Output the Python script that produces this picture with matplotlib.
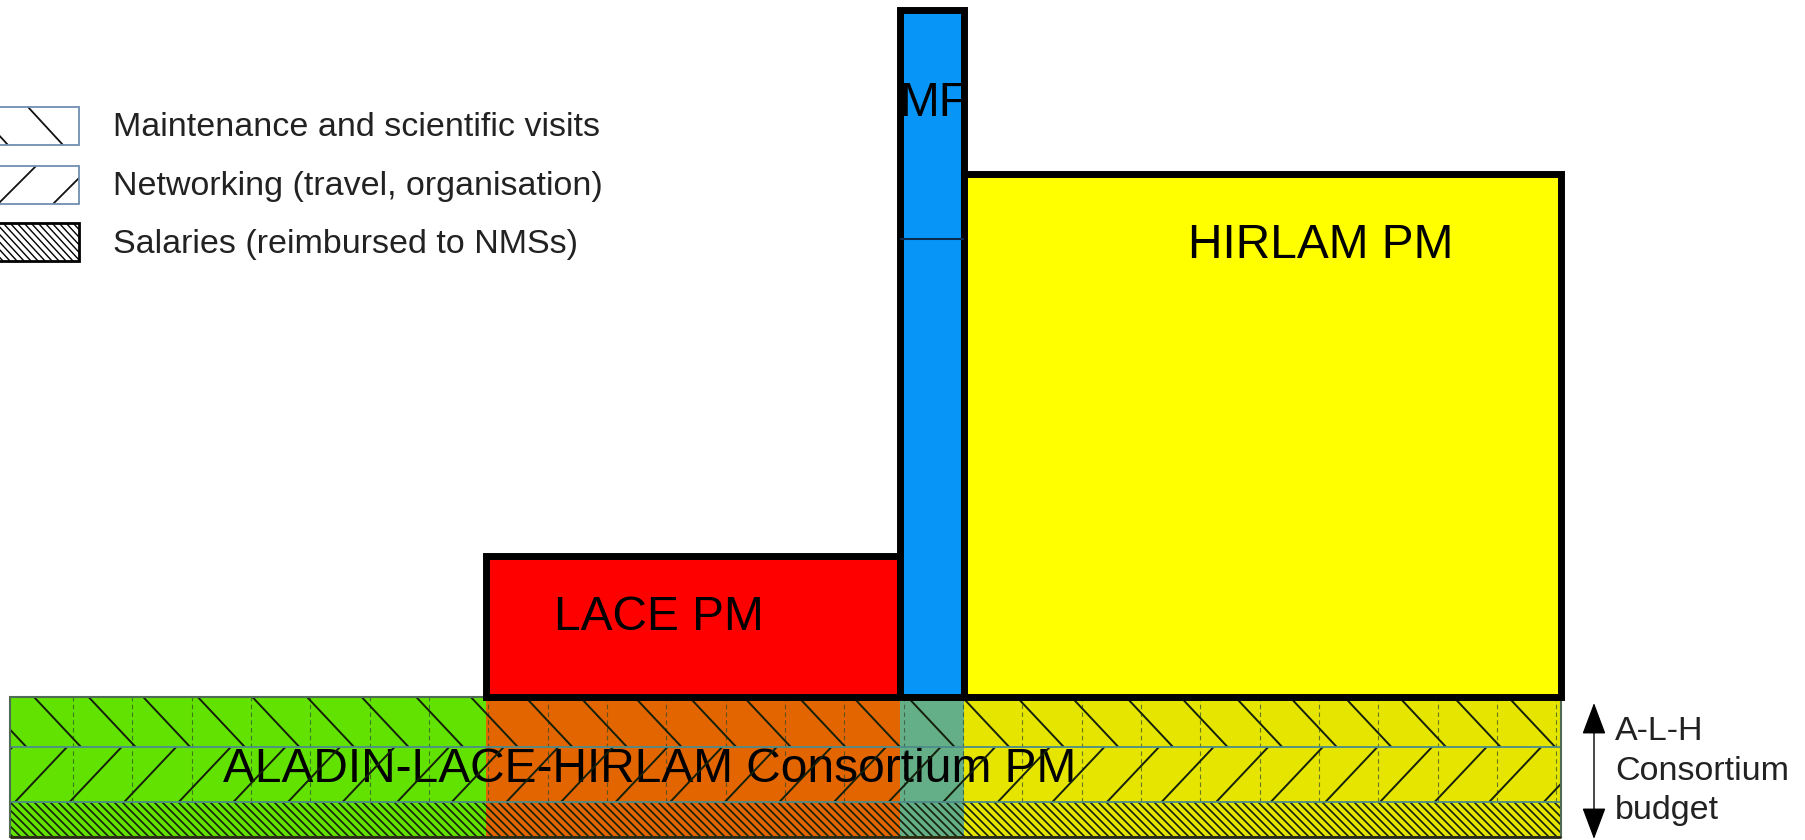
import matplotlib
matplotlib.use('Agg')
import matplotlib.pyplot as plt
import numpy as np
from matplotlib.patches import Rectangle
from matplotlib.collections import LineCollection

plt.rcParams['font.family'] = ['Liberation Sans', 'DejaVu Sans']

# consortium members, left to right (widths = share of the common budget)
members = ['ALADIN', 'LACE', 'MF', 'HIRLAM']
member_widths = [476, 414, 64, 597]
band_colors = ['#62e200', '#e26500', '#64ae88', '#e5e500']

# programme manpower on top of the common band
pm_heights = [0, 141, 687, 523]
pm_labels = ['', 'LACE PM', 'MF', 'HIRLAM PM']
pm_colors = ['none', '#ff0000', '#0796f8', '#ffff00']
mf_split = 458

# rows of the common band, bottom to top
band_rows = ['Salaries (reimbursed to NMSs)', 'Networking (travel, organisation)',
             'Maintenance and scientific visits']
band_row_heights = [35, 55, 50]
band_label = 'ALADIN-LACE-HIRLAM Consortium PM'
budget_note = ['A-L-H', 'Consortium', 'budget']


def hatch(ax, x0, y0, w, h, step, lean, phase, color='#15200a', lw=1.4, z=3):
    # straight hatch lines clipped to a box; lean = shift of bottom end vs top end
    clip = Rectangle((x0, y0), w, h, fill=False, linewidth=0)
    ax.add_patch(clip)
    tops = np.arange(phase - 60 * step, x0 + w + abs(lean) + step, step)
    segs = [[(t, y0 + h), (t + lean, y0)] for t in tops]
    lc = LineCollection(segs, colors=color, linewidths=lw, zorder=z)
    ax.add_collection(lc)
    lc.set_clip_path(clip)


fig = plt.figure(figsize=(18.05, 8.4), dpi=100)
ax = fig.add_axes([0, 0, 1, 1])
ax.set_xlim(-10, 1795)
ax.set_ylim(-3, 837)
ax.axis('off')

lefts = np.concatenate([[0], np.cumsum(member_widths)[:-1]])
total_w = sum(member_widths)
row_bottoms = np.concatenate([[0], np.cumsum(band_row_heights)[:-1]])
band_top = sum(band_row_heights)

# common band
for rb, rh in zip(row_bottoms, band_row_heights):
    ax.bar(lefts, rh, member_widths, bottom=rb, align='edge', color=band_colors,
           linewidth=0, zorder=1)

ax.vlines(np.arange(63, total_w, 59.33), row_bottoms[1], band_top, colors='#2e4a2a',
          linestyles=(0, (4, 3)), linewidth=0.8, alpha=0.7, zorder=2)
ax.text(640, 67, band_label, ha='center', va='center', fontsize=34.5, zorder=2.5)

hatch(ax, 0, row_bottoms[2], total_w, band_row_heights[2], 54.6, 47, 24)
hatch(ax, 0, row_bottoms[1], total_w, band_row_heights[1], 54.6, -52, 57)
hatch(ax, 0, row_bottoms[0], total_w, band_row_heights[0], 8, 35, 0, lw=1.2)

ax.hlines(row_bottoms[1:], 0, total_w, colors='#4d8c8a', linewidth=1.3, zorder=4)
ax.add_patch(Rectangle((0, 0), total_w, band_top, fill=False, edgecolor='#4f6a55',
                       linewidth=1.5, zorder=4))
ax.hlines(0, 0, total_w, colors='#2a2a10', linewidth=2, zorder=4)

# PM bars
idx = [i for i, h in enumerate(pm_heights) if h > 0]
ax.bar(lefts[idx], [pm_heights[i] for i in idx], [member_widths[i] for i in idx],
       bottom=band_top, align='edge', color=[pm_colors[i] for i in idx],
       edgecolor='black', linewidth=5, zorder=5)
mf = members.index('MF')
ax.hlines(band_top + mf_split, lefts[mf], lefts[mf] + member_widths[mf],
          colors='#0a2a50', linewidth=1.5, zorder=6)

label_pos = [None, (649, 219), (924, 733), (1311, 592)]
for lab, pos in zip(pm_labels, label_pos):
    if lab:
        ax.text(pos[0], pos[1], lab, ha='center', va='center', fontsize=34.5, zorder=7)

# legend drawn by hand (swatches run off the left edge)
legend_y = [711, 652, 595]
sw_h = 38
for k, (lab, y) in enumerate(zip(band_rows[::-1], legend_y)):
    y0 = y - sw_h / 2
    ax.add_patch(Rectangle((-40, y0), 109, sw_h, facecolor='white', zorder=7))
    if k == 2:
        hatch(ax, -40, y0, 109, sw_h, 7, 35, 0, color='black', lw=1.0, z=8)
        ax.add_patch(Rectangle((-40, y0), 109, sw_h, fill=False, edgecolor='black',
                               linewidth=2, zorder=9))
    else:
        if k == 0:
            hatch(ax, -40, y0, 109, sw_h, 55, 35, 18, color='#111111', lw=1.3, z=8)
        else:
            hatch(ax, -40, y0, 109, sw_h, 55, -38, 26, color='#111111', lw=1.3, z=8)
        ax.add_patch(Rectangle((-40, y0), 109, sw_h, fill=False, edgecolor='#6f8fb0',
                               linewidth=1.3, zorder=9))
    ax.text(103, y - 2, lab, ha='left', va='center', fontsize=24.5, color='#222222')

# budget arrow and note
ax.annotate('', xy=(1584, band_top - 6), xytext=(1584, -2),
            arrowprops=dict(arrowstyle='<|-|>,head_length=0.8,head_width=0.3',
                            color='black', lw=1.0, mutation_scale=25,
                            shrinkA=0, shrinkB=0))
for line, y in zip(budget_note, [105, 66, 27]):
    ax.text(1605, y, line, ha='left', va='center', fontsize=24.5, color='#222222')

fig.savefig('out.png', dpi=100)
